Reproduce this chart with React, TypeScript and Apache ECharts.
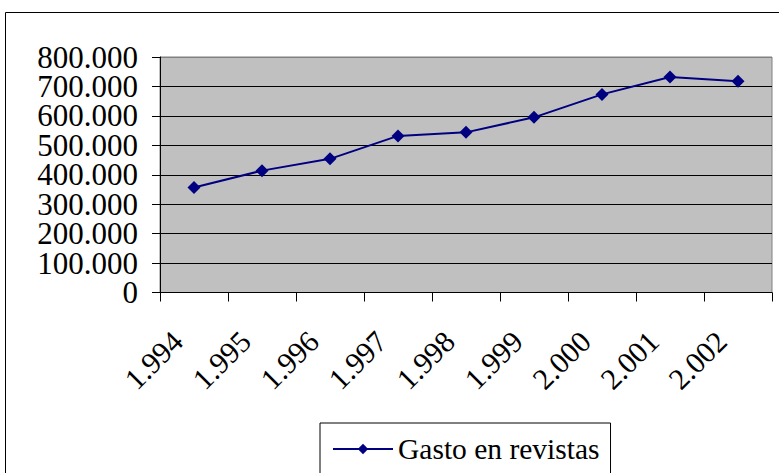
import React, { useEffect, useRef } from "react";
import * as echarts from "echarts";

const years = ["1.994", "1.995", "1.996", "1.997", "1.998", "1.999", "2.000", "2.001", "2.002"];
const gasto = [357000, 414000, 454000, 532000, 544000, 595000, 673000, 732000, 718000];
const seriesName = "Gasto en revistas";
const yMin = 0;
const yMax = 800000;
const yStep = 100000;

const fmt = (v: number) => String(v).replace(/\B(?=(\d{3})+(?!\d))/g, ".");

export default function App() {
  const ref = useRef<HTMLDivElement>(null);
  useEffect(() => {
    document.body.style.margin = "0";
    const chart = echarts.init(ref.current!, undefined, { renderer: "svg" });
    const font = "Liberation Serif";
    const yLabelBase = {
      margin: 22,
      fontFamily: font,
      fontSize: 31,
      lineHeight: 18,
      color: "#000",
    };
    chart.setOption({
      animation: false,
      backgroundColor: "#ffffff",
      textStyle: { fontFamily: font },
      graphic: [
        {
          type: "rect",
          shape: { x: 5.5, y: 12.5, width: 900, height: 600 },
          style: { fill: "none", stroke: "#000", lineWidth: 1 },
          z: 0,
        },
      ],
      grid: {
        left: 160,
        right: 7,
        top: 57,
        bottom: 180.5,
        show: true,
        backgroundColor: "#C0C0C0",
        borderColor: "#808080",
        borderWidth: 1,
      },
      legend: {
        left: 320,
        top: 423,
        padding: [11, 11, 40, 12],
        borderColor: "#000",
        borderWidth: 1,
        backgroundColor: "#fff",
        itemWidth: 60,
        itemHeight: 13,
        textStyle: { fontFamily: font, fontSize: 29.5, color: "#000" },
        data: [seriesName],
      },
      xAxis: {
        type: "category",
        data: years,
        boundaryGap: true,
        axisLine: { lineStyle: { color: "#000", width: 1 } },
        axisTick: { show: true, length: 9, inside: false, lineStyle: { color: "#000" } },
        axisLabel: {
          interval: 0,
          rotate: 45,
          margin: 27,
          fontFamily: font,
          fontSize: 30,
          color: "#000",
          formatter: (v: string) => v + "\u2002\u2009\u200A",
        },
        splitLine: { show: false },
      },
      yAxis: [
        {
          type: "value",
          position: "left",
          min: yMin,
          max: yMax,
          interval: yStep,
          axisLine: { show: true, lineStyle: { color: "#000", width: 1 } },
          axisTick: { show: true, length: 8, inside: false, lineStyle: { color: "#000" } },
          axisLabel: {
            ...yLabelBase,
            showMinLabel: false,
            showMaxLabel: false,
            formatter: (v: number) => fmt(v),
          },
          splitLine: {
            show: true,
            lineStyle: {
              color: ["#000", "#000", "#000", "#000", "#000", "#000", "#000", "#000", "#808080"],
              width: 1,
            },
          },
        },
        {
          type: "value",
          position: "left",
          offset: 0,
          min: yMin,
          max: yMax,
          interval: yStep,
          axisLine: { show: false },
          axisTick: { show: true, length: 8, inside: false, lineStyle: { color: "#000" } },
          axisLabel: {
            ...yLabelBase,
            showMinLabel: true,
            showMaxLabel: true,
            formatter: (v: number) => (v === yMin || v === yMax ? fmt(v) : ""),
          },
          splitLine: { show: false },
        },
      ],
      series: [
        {
          name: seriesName,
          type: "line",
          yAxisIndex: 0,
          data: gasto,
          symbol: "diamond",
          symbolSize: 13,
          lineStyle: { color: "#000080", width: 2 },
          itemStyle: { color: "#000080" },
        },
      ],
    });
    return () => chart.dispose();
  }, []);
  return <div ref={ref} style={{ width: 779, height: 473 }} />;
}
